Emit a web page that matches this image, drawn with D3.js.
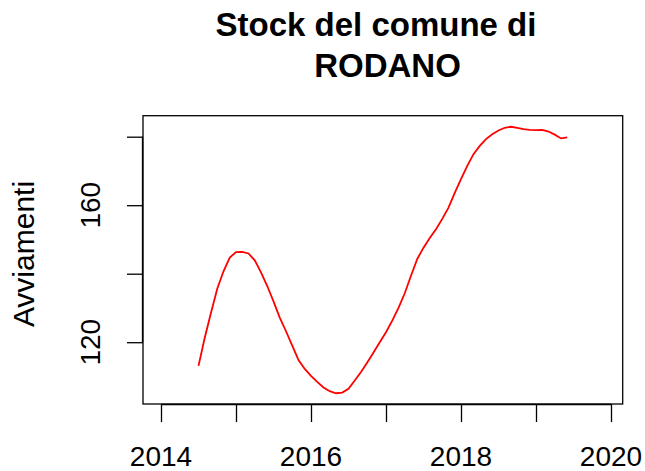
<!DOCTYPE html>
<html>
<head>
<meta charset="utf-8">
<script src="https://cdn.jsdelivr.net/npm/d3@7"></script>
<style>
  body { margin: 0; background: #fff; }
  text { font-family: "Liberation Sans", Arial, sans-serif; fill: #000; }
</style>
</head>
<body>
<div id="chart"></div>
<script>
// monthly series, July 2014 .. June 2019
var startYear = 2014.5;
var values = [113.1, 121.3, 128.6, 135.6, 140.7, 144.7, 146.3, 146.4, 145.9, 143.9,
  140.4, 136.4, 131.9, 127.2, 123.2, 119.0, 114.8, 112.2, 110.2, 108.4,
  106.8, 105.7, 105.1, 105.3, 106.4, 108.8, 111.3, 114.1, 117.0, 120.0,
  122.9, 126.3, 130.0, 134.3, 139.4, 144.3, 147.6, 150.4, 153.0, 156.0,
  159.3, 163.6, 167.6, 171.5, 174.9, 177.3, 179.3, 180.7, 181.8, 182.6,
  182.9, 182.6, 182.2, 182.0, 181.9, 182.0, 181.5, 180.6, 179.5, 179.8];
var xTicks = [2014, 2015, 2016, 2017, 2018, 2019, 2020];
var xLabels = [2014, 2016, 2018, 2020];
var yTicks = [120, 140, 160, 180];
var yLabels = [120, 160];
var titleLines = ["Stock del comune di", "RODANO"];
var yTitle = "Avviamenti";

var W = 645, H = 471;
var box = {left: 143, right: 622.7, top: 115.7, bottom: 404};

var data = values.map(function(v, i) { return {t: startYear + i / 12, v: v}; });

var x = d3.scaleLinear().domain([2013.76, 2020.156]).range([box.left, box.right]);
var y = d3.scaleLinear().domain([101.96, 186.13]).range([box.bottom, box.top]);

var svg = d3.select("#chart").append("svg")
  .attr("width", W).attr("height", H);

// plot box
svg.append("rect")
  .attr("x", box.left).attr("y", box.top)
  .attr("width", box.right - box.left).attr("height", box.bottom - box.top)
  .attr("fill", "none").attr("stroke", "#000").attr("stroke-width", 1.3);

// axes (ticks only, labels drawn below)
var xAxis = d3.axisBottom(x).tickValues(xTicks).tickSize(18).tickFormat("");
var gx = svg.append("g").attr("transform", "translate(0," + box.bottom + ")").call(xAxis);
gx.select(".domain").attr("d", "M" + x(2014) + ",0.5H" + x(2020));

var yAxis = d3.axisLeft(y).tickValues(yTicks).tickSize(16).tickFormat("");
var gy = svg.append("g").attr("transform", "translate(" + box.left + ",0)").call(yAxis);
gy.select(".domain").attr("d", "M-0.5," + y(120) + "V" + y(180));
svg.selectAll(".tick line, .domain").attr("stroke", "#000").attr("stroke-width", 1.3);

// tick labels
svg.selectAll(".xlab").data(xLabels).enter().append("text")
  .attr("class", "xlab")
  .attr("x", function(d) { return x(d); })
  .attr("y", 465.5)
  .attr("text-anchor", "middle")
  .style("font-size", "28px")
  .text(function(d) { return d; });

svg.selectAll(".ylab").data(yLabels).enter().append("text")
  .attr("class", "ylab")
  .attr("transform", function(d) { return "translate(100," + y(d) + ") rotate(-90)"; })
  .attr("text-anchor", "middle")
  .style("font-size", "28px")
  .text(function(d) { return d; });

// y axis title
svg.append("text")
  .attr("transform", "translate(33.5,254) rotate(-90)")
  .attr("text-anchor", "middle")
  .style("font-size", "30px")
  .text(yTitle);

// main title
var titleX = [376, 387.5], titleY = [36, 76.7];
titleLines.forEach(function(t, i) {
  svg.append("text")
    .attr("x", titleX[i]).attr("y", titleY[i])
    .attr("text-anchor", "middle")
    .style("font-size", "33px")
    .style("font-weight", "bold")
    .text(t);
});

// series
var line = d3.line()
  .x(function(d) { return x(d.t); })
  .y(function(d) { return y(d.v); });

svg.append("path")
  .datum(data)
  .attr("fill", "none")
  .attr("stroke", "#ff0000")
  .attr("stroke-width", 1.8)
  .attr("d", line);
</script>
</body>
</html>
